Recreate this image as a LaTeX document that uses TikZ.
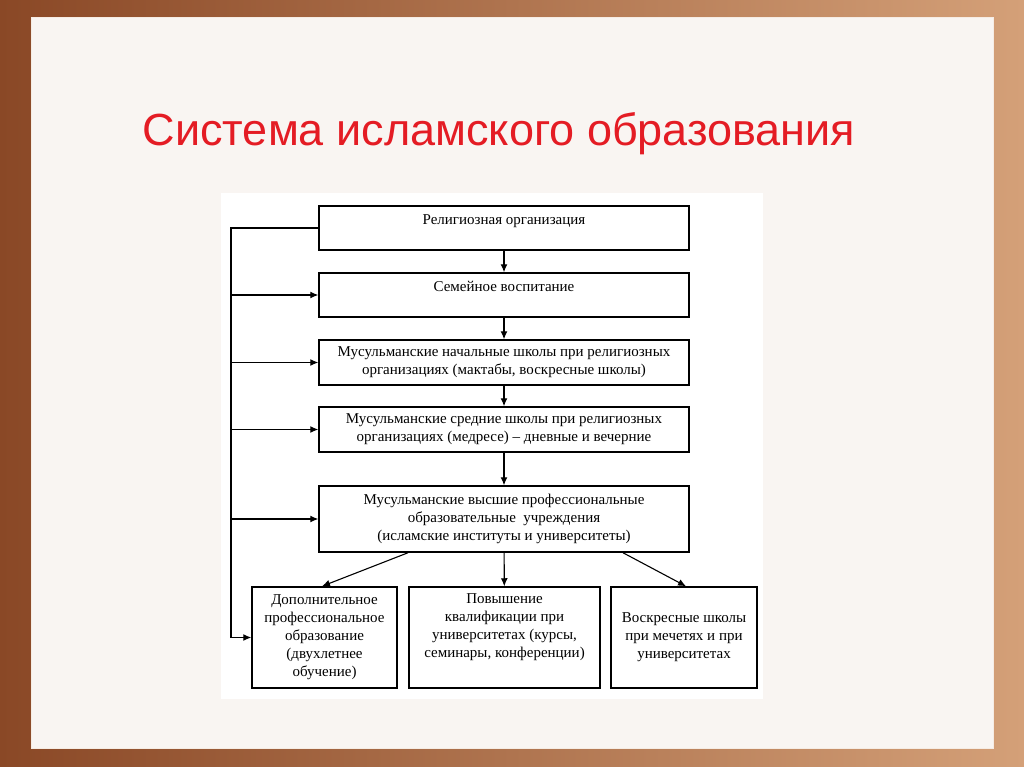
\documentclass[tikz,border=0pt]{standalone}
\usepackage{fontspec}
\setmainfont{Liberation Serif}
\newfontfamily\titlefont{Liberation Sans}
\usetikzlibrary{arrows.meta}
\definecolor{woodleft}{RGB}{138,72,38}
\definecolor{woodright}{RGB}{212,160,120}
\definecolor{panelbg}{RGB}{249,245,242}
\definecolor{titlered}{RGB}{228,28,36}

\begin{document}
\begin{tikzpicture}[
    x=1pt, y=-1pt,
    box/.style={draw, line width=1.5pt, fill=white, align=center,
        font=\fontsize{15}{18}\selectfont, inner sep=2pt},
    arr/.style={line width=1.1pt, -{Latex[length=8pt,width=7pt]}},
    link/.style={line width=1.1pt}
]
\useasboundingbox (0,0) rectangle (1024,767);
% background
\shade[left color=woodleft, right color=woodright] (0,0) rectangle (1024,767);
\fill[panelbg, draw=white!80!woodright, line width=1pt] (31,18) rectangle (993,748);
\fill[white] (221,193) rectangle (763,699);

\node[text=titlered, font=\titlefont\fontsize{45}{50}\selectfont] (title) at (499,134) {Система исламского образования};

% main column
\node[box, minimum width=370, minimum height=44, text depth=17] (org) at (504,228) {Религиозная организация};
\node[box, minimum width=370, minimum height=44, text depth=17] (family) at (504,295) {Семейное воспитание};
\node[box, minimum width=370, minimum height=45] (primary) at (504,362.5) {Мусульманские начальные школы при религиозных\\организациях (мактабы, воскресные школы)};
\node[box, minimum width=370, minimum height=45] (middle) at (504,429.5) {Мусульманские средние школы при религиозных\\организациях (медресе) -- дневные и вечерние};
\node[box, minimum width=370, minimum height=66] (higher) at (504,519) {Мусульманские высшие профессиональные\\образовательные~ учреждения\\(исламские институты и университеты)};

% bottom row
\node[box, minimum width=145, minimum height=101] (extra) at (324.5,637.5) {Дополнительное\\профессиональное\\образование\\(двухлетнее\\обучение)};
\node[box, minimum width=191, minimum height=101, text depth=24] (qualif) at (504.5,637.5) {Повышение\\квалификации при\\университетах (курсы,\\семинары, конференции)};
\node[box, minimum width=146, minimum height=101] (sunday) at (684,637.5) {Воскресные школы\\при мечетях и при\\университетах};

\draw[arr] (org) -- (family);
\draw[arr] (family) -- (primary);
\draw[arr] (primary) -- (middle);
\draw[arr] (middle) -- (higher);
\draw[arr] (higher) -- (qualif);
\draw[arr] (higher.south -| 408,0) -- (extra.north -| 322,0);
\draw[arr] (higher.south -| 623,0) -- (sunday.north -| 686,0);

% feedback line on the left
\coordinate (rail) at (231,228);
\draw[link] (org.west) -- (rail) -- (rail |- extra.west);
\draw[arr] (rail |- extra.west) -- (extra.west);
\foreach \n in {family,primary,middle,higher}
    \draw[arr] (rail |- \n.west) -- (\n.west);
\end{tikzpicture}
\end{document}
